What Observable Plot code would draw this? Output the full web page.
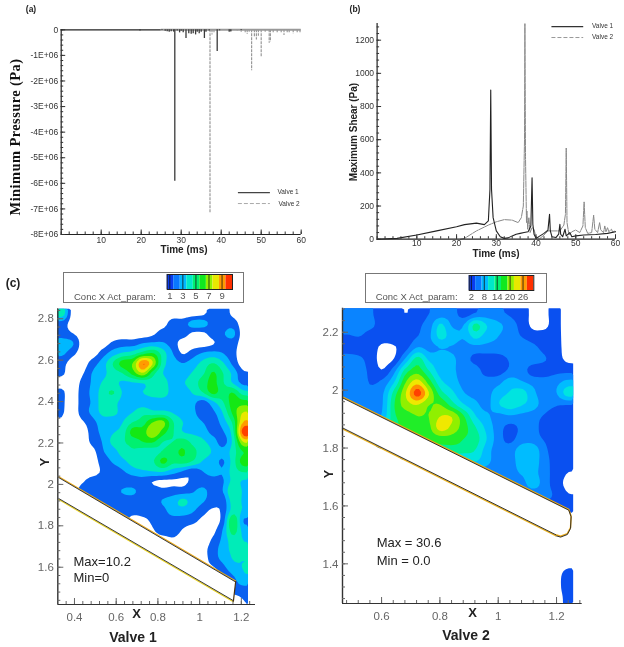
<!DOCTYPE html>
<html><head><meta charset="utf-8">
<style>html,body{margin:0;padding:0;background:#fff}#root{position:relative;width:624px;height:647px;overflow:hidden;font-family:"Liberation Sans",Arial,sans-serif;filter:blur(0.3px)}
.t{position:absolute;white-space:nowrap;line-height:1}</style>
<script src="https://cdn.jsdelivr.net/npm/d3@7"></script>
<script src="https://cdn.jsdelivr.net/npm/@observablehq/plot@0.6"></script>
</head><body><div id="root"></div>
<script>
// (a) minimum pressure spikes
const aV1Time=[19.7,25.2,26,26.5,27,27.5,28.1,28.4,29,29.6,30,30.5,31.2,31.9,32.5,33,33.6,34,34.5,35,35.8,36.2,37,39,39.6,42,42.4,45];
const aV1Pres=[-5e4,-3e4,-6e4,-8e4,-1e5,-8e4,-9e4,-5.92e6,-5e4,-1.2e5,-6e4,-1.2e5,-3.4e5,-1.5e5,-1.7e5,-1.5e5,-2e5,-1e5,-1.5e5,-1e5,-3.4e5,-1e5,-5e4,-8.5e5,-4e4,-1e5,-9e4,-3e4];
const aV2Time=[37.2,37.7,38.2,42.5,44,45,46,46.5,47,47.6,48.3,48.8,49.3,50,51,52,52.3,53,54,55,55.7,56.5,57,58,59,59.7];
const aV2Pres=[-7.18e6,-2e5,-1.5e5,-6e4,-5e4,-1e5,-1.5e5,-1.8e5,-1e5,-1.6e6,-3e5,-4e5,-2.5e5,-1.05e6,-1e5,-5.3e5,-4.8e5,-1.5e5,-1.5e5,-1.2e5,-2.2e5,-1.3e5,-1.2e5,-1.6e5,-1.3e5,-1.3e5];
// (b) maximum shear
const bV1Time=[0,5,10,15,20,22,25,27,28,28.4,28.6,28.8,29.2,30,31,32,33,34,35,36,37,38,38.7,39,39.2,39.5,40,41,42,43,43.4,43.6,44,45,45.7,46,46.2,46.7,47.3,47.6,48.5,49,50,52,55,58,60];
const bV1Shear=[0,5,25,50,75,88,97,88,110,300,900,300,130,50,15,5,8,20,30,35,40,45,80,370,90,30,5,20,35,55,150,50,15,10,30,90,30,15,60,20,40,15,20,25,28,35,45];
const bV2Time=[21,22,25,28,30,32,34,35.5,36.3,36.8,37.1,37.2,37.35,37.6,37.7,37.9,38.2,38.5,39,39.5,40,41,42,43,44,46,47,47.4,47.6,47.8,48.3,49,50,51,51.8,52.1,52.4,53,54,54.5,54.8,55.5,56,56.3,57,57.3,57.6,58,58.3,59,59.3,59.7,60];
const bV2Shear=[0,5,50,85,105,118,115,100,130,200,600,1300,500,100,170,60,130,40,70,60,10,5,25,50,50,50,85,150,550,100,25,45,55,40,80,225,70,35,40,145,60,40,100,55,40,80,45,70,45,60,40,50,45];
const conc1=[
[3,0,0,0,0,0,0,0,0,0,0,0,0,0,0.3,1,1,0.3,0],
[1,0,0,0,0,0,0,0,0,0,0.1,1,1,2,2,1,1,1,0],
[1,0.5,0,0,0,0,0,0,0,0.3,1,1,1,0.3,0.3,1,1.4,1.8,0],
[2,1.6,0,0,0,0.7,1,1,1.5,1.7,1.6,1,0,0,0,0.4,1,1,0],
[1.7,0.8,0,0,1,2,2.6,3,4,4.5,3,1.5,0.4,1,1.6,1.8,1.5,0.8,0],
[0.8,0,0,1,2,3.5,5,5.5,8.5,6.5,3,2,1.5,2,2.8,3.5,2.6,1.2,0],
[0.6,0,0.4,1.6,2.2,3,3.6,5,6.5,4,2.5,2,2,2.6,3.3,4.6,3.5,2.2,0.7],
[0.3,0,0.8,1.7,2.6,2.8,2.3,2.4,2.6,3,3,2,2.4,3,4,4.8,3.6,2.4,1.2],
[0.6,0,1,1.8,3,3.6,2.4,2,2.5,3,3.1,2,2,2.6,3.5,4.8,4,4.5,3],
[0.6,0,1,1.7,3,2.8,2.2,2,2,2,2,2,2,1.8,1,2.2,3.4,5,5],
[0.55,0,1,1.8,2.8,2.8,2.2,2.5,3.2,2.8,2.8,2.4,2,1.7,1,1.3,2.6,4.8,6.5],
[0.4,0,0.4,1.2,2,2,2.5,3.5,4,5.5,5.8,3.6,2.5,2,1.5,1,2,3.8,7.5],
[0.3,0,0,1,1.8,2.4,3,5,5,6.5,5,3.6,2.5,2.3,2,1.2,1.4,3.2,9],
[0,0,0,0.8,1.6,2.8,3.4,3.8,4.5,4.6,3.5,3.5,4,3.2,2.7,2,1.1,2.8,6.5],
[0,0,0,0.2,1.4,2,3,3.4,3,3,3.6,4.2,4.6,3.8,3,2.4,1.8,3,4.5],
[0,0,0,0,1,1.6,2.2,3,3.4,3.4,4.8,3.8,4,3.4,2.4,2,1.4,3,5],
[0,0,0,0,0.7,1,1.4,2,2.3,2.5,2.6,2,1.4,0.8,1.5,2,1.6,3,3.6],
[0,0,0.4,1,1,1,1,1,1,0.5,0.3,0.3,0.3,0.7,1,1,1.4,2.8,2.4],
[0,0,1,1,1,1,1.6,1.7,1,1,0.8,1,1,1.4,1.8,1,1.5,3.5,2.4],
[0,0,1,1,1,1,1,1,1,1,1.6,2,2.8,2,1.6,1,0.9,3,2.4],
[0,0,0,1,1,1,1,0.9,1,1,1.2,2,2,1.6,0.9,0.3,0.8,3,2.4],
[0,0,0,0,0,1,1,0,0.2,0.7,1,1,1,0.8,0.2,0,1,4.5,1.5],
[0,0,0,0,0,0,0,0,0,0.4,1,1,0.4,0,0,0.2,1.6,4,2.2],
[0,0,0,0,0,0,0,0,0,0,0,0.3,0,0,0,0.7,1.8,3,2.5],
[0,0,0,0,0,0,0,0,0,0,0,0,0,0,0.2,1,2,2.7,2.6],
[0,0,0,0,0,0,0,0,0,0,0,0,0,0,0,1,1.7,2.5,2.5],
[0,0,0,0,0,0,0,0,0,0,0,0,0,0,0,0.2,1,2,2.5],
[0,0,0,0,0,0,0,0,0,0,0,0,0,0,0,0,0,1.1,2.2],
[0,0,0,0,0,0,0,0,0,0,0,0,0,0,0,0,0,0.9,1],
[0,0,0,0,0,0,0,0,0,0,0,0,0,0,0,0,0,0,0.5]];
// Valve 2
const conc2=[
[2,2,1.6,1,1,0.5,1,1.5,2,2,1,1.6,2,1.7,1.4,1,0.3,0.3,0.8,0],
[2,2,1.7,1,1,1,1.3,2,3.7,2.4,2.5,4.8,3.5,2.8,2,1.2,0.3,0.3,0.8,0],
[1.4,1.5,1,1,1,1,1.5,2.3,3.8,3,2.6,3.8,3,2.5,2,1.5,1,0.9,0.9,0],
[1,1,1,0.2,0.4,1.2,2.6,2.2,2.5,2.4,2.1,2.1,2.1,2.1,2.2,2.2,1.8,1.2,1,0],
[2,1.7,1,0.1,0.6,2.8,5,3.3,3,2.7,2,1.2,1,1,1.6,2,2,1.6,1,0.3],
[2,1.9,1.2,0.6,2.2,5,6,4.5,3,2.7,2.1,2,1,1,1.7,2,1,1,1.2,1.2],
[2,2,1.4,1.8,3.5,6.5,8,6,3.8,3,2.2,2,2,2.2,3,2.6,2.2,1.9,2.2,2.8],
[2,2,1.8,2.4,5,7.5,10,7.5,5,3.8,2.6,2.2,2.2,3,3.6,4,2.8,2,2.4,4],
[2,2,2,2.5,5.5,7,7.5,6.5,6.5,5,3.6,2.8,2.2,3.4,4,3.6,3,2,1.6,1.5],
[2,2,2,2.8,5.3,6,6.5,6.5,7.5,7.4,5.6,3.6,2.7,2.2,2.4,2.2,2,1.4,1,1],
[0,0,3,4,5,6,6.3,6.3,8,7.2,6,4.6,3.2,2,1.2,1.7,2,1,1,1],
[0,0,0,5,5,5,5.8,5.8,6,6,5.5,5,3.5,2,1.2,2,2,1.4,1,1],
[0,0,0,0,0,5,5,5,5,5,5,4.5,3,2,2,3,3.2,1.8,1,1],
[0,0,0,0,0,0,0,3,3,3,3,3.5,2.8,2,2,3,3,2,1,0.8],
[0,0,0,0,0,0,0,0,0,2,2,2,2,1.8,2,2.6,2.8,2,1,0.5],
[0,0,0,0,0,0,0,0,0,0,0,2,2,2,2,2,3,2,1,0.3],
[0,0,0,0,0,0,0,0,0,0,0,0,0,1.5,1.5,1.5,1.5,1.8,1.3,0.6],
[0,0,0,0,0,0,0,0,0,0,0,0,0,0,1,1,1,1,1,1],
[0,0,0,0,0,0,0,0,0,0,0,0,0,0,0,0,0,0,0,0],
[0,0,0,0,0,0,0,0,0,0,0,0,0,0,0,0,0,0,0,0],
[0,0,0,0,0,0,0,0,0,0,0,0,0,0,0,0,0,0,0,0],
[0,0,0,0,0,0,0,0,0,0,0,0,0,0,0,0,0,0,0,0],
[0,0,0,0,0,0,0,0,0,0,0,0,0,0,0,0,0,0,0,0.2],
[0,0,0,0,0,0,0,0,0,0,0,0,0,0,0,0,0,0,0.1,0.9],
[0,0,0,0,0,0,0,0,0,0,0,0,0,0,0,0,0,0,0.1,1],
[0,0,0,0,0,0,0,0,0,0,0,0,0,0,0,0,0,0,0,0.8]];
const palette1=["#0a60f0","#00b8ff","#00ecb8","#00f070","#14e814","#88f000","#e8e800","#ff9c00","#ff4000"];
const palette2=["#0a50f0","#0a84ff","#00bcff","#00e4e0","#00f090","#20ee28","#90f000","#f0e800","#ff9000","#ff4000"];
const legendColors=["#0a3cf0","#0a78ff","#00b8ff","#00e8c8","#00f070","#10e820","#90f000","#e8e800","#ff9c00","#ff3000"];
const thresholds1=[0.5,1.5,2.5,3.5,4.5,5.5,6.5,7.5,8.5];
const thresholds2=[0.5,1.5,2.5,3.5,4.5,5.5,6.5,7.5,8.5,9.5];
const legend1Levels=[0.6,1.6,2.6,3.6,4.6,5.6,6.6,7.6,8.6,9.6,10.6];
const legend2Levels=[1,4,7,10,13,16,19,22,25,28,31];
const legend1Labels=[1,3,5,7,9];
const legend2Labels=[2,8,14,20,26];
// valve outlines
const wall1Top={x:[0.325,1.173],y:[2.035,1.531]};
const wall1Bot={x:[0.325,1.162],y:[1.929,1.436]};
const wall2Top={x:[0.466,1.242,1.25,1.248,1.237,1.214,1.197],y:[1.975,1.587,1.564,1.524,1.503,1.494,1.499]};
const wall2Bot={x:[1.197,0.466],y:[1.499,1.868]};

const root=document.getElementById("root");
function frame(l,r,t,b,opts){
  const s=Plot.plot({width:624,height:647,marginLeft:l,marginRight:624-r,marginTop:t,marginBottom:647-b,...opts,
    style:{background:"transparent",position:"absolute",left:"0px",top:"0px",fontFamily:"'Liberation Sans',Arial,sans-serif",fontSize:"9px",overflow:"visible"}});
  root.append(s);
}
function label(txt,x,y,css,rot){
  const d=document.createElement("div");d.className="t";d.textContent=txt;
  d.style.cssText=`left:${x}px;top:${y}px;transform:translate(-50%,-50%)${rot?` rotate(${rot}deg)`:""};${css}`;
  root.append(d);
}
function leftLabel(txt,x,y,css){
  const d=document.createElement("div");d.className="t";d.textContent=txt;
  d.style.cssText=`left:${x}px;top:${y}px;transform:translateY(-50%);${css}`;root.append(d);
}
const round=v=>+v.toFixed(4);
function axes(xMajor,yMajor,xMinor,yMinor,fmtY,o){
  const {color="#333",fs=8.5,xpad=10,ypad=8,major=4.5,minor=2.5}=o||{};
  return [
    Plot.axisX({ticks:xMinor,tickSize:-minor,text:null,color,label:null}),
    Plot.axisY({ticks:yMinor,tickSize:-minor,text:null,color,label:null}),
    Plot.axisX({ticks:xMajor,tickSize:-major,tickPadding:major+xpad-4,color,label:null,fontSize:fs,tickFormat:d=>String(d)}),
    Plot.axisY({ticks:yMajor,tickSize:-major,tickPadding:major+ypad-4,color,label:null,fontSize:fs,tickFormat:fmtY||(d=>String(d))})
  ];
}
// resample the read grid (Catmull-Rom) so that the contour bands are rounded like the source's
const K=4;
function cr(a,b,c,d,t){return 0.5*(2*b+(c-a)*t+(2*a-5*b+4*c-d)*t*t+(3*b-a-3*c+d)*t*t*t);}
function fine(rows){
  const nr=rows.length,nc=rows[0].length,w=nc*K,h=nr*K,out=new Float64Array(w*h);
  const R=j=>rows[Math.max(0,Math.min(nr-1,j))];
  for(let yy=0;yy<h;yy++){
    const v=(yy+.5)/K-.5,j=Math.floor(v),tv=v-j;
    for(let xx=0;xx<w;xx++){
      const u=(xx+.5)/K-.5,i=Math.floor(u),tu=u-i;
      const c=r=>{const g=q=>r[Math.max(0,Math.min(nc-1,q))];return cr(g(i-1),g(i),g(i+1),g(i+2),tu);};
      out[yy*w+xx]=cr(c(R(j-1)),c(R(j)),c(R(j+1)),c(R(j+2)),tv);
    }
  }
  return {values:Array.from(out),w,h};
}
const f1=fine(conc1),f2=fine(conc2);
// ---------- (a)
frame(60.7,300.7,29.3,234,{
  x:{domain:[0,60],axis:null},y:{domain:[-8e6,0],axis:null},
  marks:[
    Plot.ruleY([0],{x1:25,x2:60,stroke:"#999",strokeWidth:2}),
    Plot.ruleY([0],{x1:0,x2:25,stroke:"#222",strokeWidth:1.3}),
    Plot.ruleX(aV2Time,{x:aV2Time,y1:0,y2:aV2Pres,stroke:"#999",strokeWidth:1.2,strokeDasharray:"3,1"}),
    Plot.ruleX(aV1Time,{x:aV1Time,y1:0,y2:aV1Pres,stroke:"#3a3a3a",strokeWidth:1.3}),
    Plot.ruleX([0],{stroke:"#222",strokeWidth:1.2}),Plot.ruleY([-8e6],{stroke:"#222",strokeWidth:1.2}),
    ...axes([10,20,30,40,50,60],d3.range(-8e6,1,1e6),d3.range(0,61,2),d3.range(-8e6,1,2e5),d=>d===0?"0":`${d/1e6}E+06`,{xpad:6.5,ypad:7}),
    Plot.ruleY([-6.36e6],{x1:44.3,x2:52.3,stroke:"#444",strokeWidth:1.2}),
    Plot.ruleY([-6.79e6],{x1:44.3,x2:52.3,stroke:"#aaa",strokeWidth:1,strokeDasharray:"4,2"})
  ]});
// ---------- (b)
frame(376.6,615,23.1,238.7,{
  x:{domain:[0,60],axis:null},y:{domain:[0,1300],axis:null},
  marks:[
    Plot.line({length:bV2Time.length},{x:bV2Time,y:bV2Shear,stroke:"#888",strokeWidth:1,strokeDasharray:"6,1"}),
    Plot.line({length:bV1Time.length},{x:bV1Time,y:bV1Shear,stroke:"#222",strokeWidth:1.1}),
    Plot.ruleX([0],{stroke:"#222",strokeWidth:1.2}),Plot.ruleY([0],{stroke:"#222",strokeWidth:1.2}),
    ...axes([10,20,30,40,50,60],d3.range(0,1201,200),d3.range(0,61,2),d3.range(0,1300,40),null,{xpad:5,ypad:7}),
    Plot.ruleY([1282],{x1:44,x2:52,stroke:"#333",strokeWidth:1.2}),
    Plot.ruleY([1216],{x1:44,x2:52,stroke:"#999",strokeWidth:1,strokeDasharray:"4,2"})
  ]});
// ---------- (c) Valve 1
frame(57.3,255,308.3,604,{
  x:{domain:[0.32,1.268],axis:null},y:{domain:[1.42,2.848],axis:null},
  color:{type:"threshold",domain:thresholds1.slice(1),range:palette1},
  marks:[
    Plot.contour(f1.values,{width:f1.w,height:f1.h,x1:0.32,x2:1.232,y1:2.848,y2:1.42,fill:Plot.identity,thresholds:thresholds1,stroke:"none"}),
    Plot.line({length:4},{x:[...wall1Top.x,...wall1Bot.x.slice().reverse()],y:[...wall1Top.y,...wall1Bot.y.slice().reverse()],fill:"white",stroke:"none",curve:"linear-closed"}),
    Plot.line({length:2},{x:wall1Top.x,y:wall1Top.y,stroke:"#e8a818",strokeWidth:1.2,dy:-0.5}),
    Plot.line({length:2},{x:wall1Top.x,y:wall1Top.y,stroke:"#222",strokeWidth:0.9,dy:0.5}),
    Plot.line({length:2},{x:wall1Bot.x,y:wall1Bot.y,stroke:"#e8d020",strokeWidth:1.2,dy:0.5}),
    Plot.line({length:2},{x:wall1Bot.x,y:wall1Bot.y,stroke:"#222",strokeWidth:0.9,dy:-0.5}),
    Plot.line({length:2},{x:[wall1Top.x[1],wall1Bot.x[1]],y:[wall1Top.y[1],wall1Bot.y[1]],stroke:"#4a3010",strokeWidth:1.2}),
    Plot.ruleX([0.32],{stroke:"#333",strokeWidth:1.4}),Plot.ruleY([1.42],{stroke:"#333",strokeWidth:1.2}),
    ...axes([0.4,0.6,0.8,1,1.2],[1.6,1.8,2,2.2,2.4,2.6,2.8],d3.range(0,24).map(i=>round(0.36+i*0.04)).filter(v=>v<1.27),d3.range(0,36).map(i=>round(1.44+i*0.04)),null,{color:"#666",fs:11.5,xpad:12,ypad:8,major:6,minor:3})
  ]});
// ---------- (c) Valve 2
frame(342,581.7,307.7,603,{
  x:{domain:[0.466,1.288],axis:null},y:{domain:[1.263,2.283],axis:null},
  color:{type:"threshold",domain:thresholds2.slice(1),range:palette2},
  marks:[
    Plot.contour(f2.values,{width:f2.w,height:f2.h,x1:0.466,x2:1.257,y1:2.283,y2:1.263,fill:Plot.identity,thresholds:thresholds2,stroke:"none"}),
    Plot.line({length:9},{x:[...wall2Top.x,...wall2Bot.x],y:[...wall2Top.y,...wall2Bot.y],fill:"white",stroke:"none",curve:"linear-closed"}),
    Plot.line({length:7},{x:wall2Top.x,y:wall2Top.y,stroke:"#e8a818",strokeWidth:1.4,dy:-0.4}),
    Plot.line({length:7},{x:wall2Top.x,y:wall2Top.y,stroke:"#222",strokeWidth:0.9,dy:0.5}),
    Plot.line({length:2},{x:wall2Bot.x,y:wall2Bot.y,stroke:"#e8b020",strokeWidth:1.4,dy:0.5}),
    Plot.line({length:2},{x:wall2Bot.x,y:wall2Bot.y,stroke:"#222",strokeWidth:0.9,dy:-0.5}),
    Plot.ruleX([0.466],{stroke:"#333",strokeWidth:1.4}),Plot.ruleY([1.263],{stroke:"#333",strokeWidth:1.2}),
    ...axes([0.6,0.8,1,1.2],[1.4,1.6,1.8,2,2.2],d3.range(0,21).map(i=>round(0.48+i*0.04)).filter(v=>v<1.285),d3.range(0,26).map(i=>round(1.28+i*0.04)),null,{color:"#666",fs:11.5,xpad:12,ypad:8,major:6,minor:3})
  ]});
// ---------- colour bars
function bar(l,r,t,b,levels,labels){
  const box=[levels.slice(0,-1),levels.slice(1)];
  frame(l,r,t,b,{
    x:{domain:[levels[0],levels[levels.length-1]],axis:null},y:{domain:[0,1],axis:null},
    marks:[
      Plot.rect(box[0],{x1:box[0],x2:box[1],y1:0,y2:1,fill:(d,i)=>legendColors[i],stroke:"none"}),
      Plot.ruleX(labels,{stroke:"#111",strokeWidth:0.8}),
      Plot.frame({stroke:"#222"}),
      Plot.axisX({ticks:labels,tickSize:0,tickPadding:3,color:"#555",fontSize:9.5,label:null,tickFormat:d=>String(d)})
    ]});
}
function boxDiv(x1,y1,x2,y2){const d=document.createElement("div");d.style.cssText=`position:absolute;left:${x1}px;top:${y1}px;width:${x2-x1}px;height:${y2-y1}px;border:1px solid #777;box-sizing:border-box;background:#fff`;root.append(d);}
boxDiv(63.3,272.3,244,303);boxDiv(365.3,272.7,546.7,303);
bar(166.7,232,274,289,legend1Levels,legend1Labels);
bar(468.7,533.3,275,290,legend2Levels,legend2Labels);
// ---------- texts
label("(a)",31,9,"font-weight:bold;font-size:8.5px;color:#222");
label("(b)",355,9,"font-weight:bold;font-size:8.5px;color:#222");
label("(c)",13,283,"font-weight:bold;font-size:12px;color:#222");
label("Minimum Pressure (Pa)",15,137,"font-family:'Liberation Serif',serif;font-weight:bold;font-size:14.5px;letter-spacing:0.4px;color:#111",-90);
label("Maximum Shear (Pa)",354,132,"font-weight:bold;font-size:10px;color:#222",-90);
label("Time (ms)",184,250,"font-weight:bold;font-size:10px;color:#222");
label("Time (ms)",496,254,"font-weight:bold;font-size:10px;color:#222");
leftLabel("Valve 1",277.5,192,"font-size:6.5px;color:#333");leftLabel("Valve 2",278.5,203.5,"font-size:6.5px;color:#333");
leftLabel("Valve 1",592,26,"font-size:6.5px;color:#333");leftLabel("Valve 2",592,37,"font-size:6.5px;color:#333");
leftLabel("Conc X Act_param:",74,297,"font-size:9.5px;color:#555");
leftLabel("Conc X Act_param:",375.7,297,"font-size:9.5px;color:#555");
label("X",136.7,613,"font-weight:bold;font-size:13px;color:#222");
label("Y",45,462,"font-weight:bold;font-size:12.5px;color:#222",-90);
label("X",472.7,612,"font-weight:bold;font-size:13px;color:#222");
label("Y",329.3,474,"font-weight:bold;font-size:12.5px;color:#222",-90);
label("Valve 1",133,637,"font-weight:bold;font-size:14px;color:#222");
label("Valve 2",466,635,"font-weight:bold;font-size:14px;color:#222");
leftLabel("Max=10.2",73.5,561,"font-size:13px;color:#222");leftLabel("Min=0",73.5,577,"font-size:13px;color:#222");
leftLabel("Max = 30.6",376.7,541.7,"font-size:13px;color:#222");leftLabel("Min = 0.0",376.7,560,"font-size:13px;color:#222");
</script></body></html>
